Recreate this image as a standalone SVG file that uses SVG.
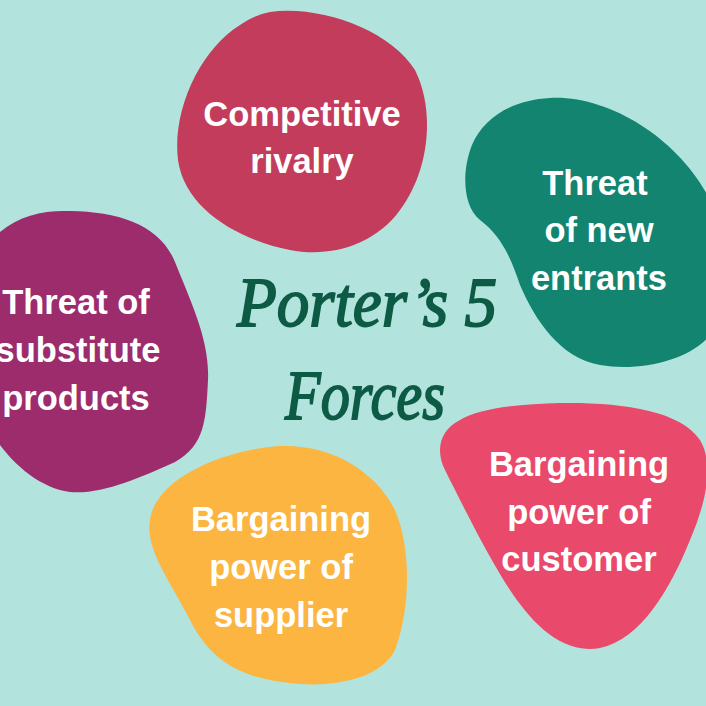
<svg xmlns="http://www.w3.org/2000/svg" width="706" height="706" viewBox="0 0 706 706">
<style>
.lbl{font-family:"Liberation Sans",Arial,sans-serif;font-weight:bold;font-size:34.5px;fill:#ffffff;text-anchor:middle}
.ttl{font-family:"Liberation Serif","Times New Roman",serif;font-style:italic;font-weight:normal;font-size:70px;fill:#0d5a45;text-anchor:middle;stroke:#0d5a45;stroke-width:1.8}
</style>
<rect x="0" y="0" width="706" height="706" fill="#b3e3dd"/>
<g id="rivalry">
<path d="M 270 12 C 320 5, 390 30, 415 70 C 435 110, 430 170, 400 210 C 375 245, 330 258, 290 250 C 240 240, 185 210, 178 160 C 172 110, 200 50, 240 25 C 250 18, 260 14, 270 12 Z" fill="#c33c5c"/>
<text class="lbl" x="302" y="126">Competitive</text>
<text class="lbl" x="302" y="173">rivalry</text>
</g>
<g id="new-entrants">
<path d="M 550 98 C 610 95, 680 140, 710 200 L 710 335 C 690 360, 640 372, 600 365 C 560 358, 535 320, 520 285 C 510 255, 500 235, 480 220 C 462 205, 462 170, 472 145 C 485 115, 515 100, 550 98 Z" fill="#128470"/>
<text class="lbl" x="595" y="195">Threat</text>
<text class="lbl" x="599" y="242">of new</text>
<text class="lbl" x="599" y="290">entrants</text>
</g>
<g id="substitutes">
<path d="M 0 232 C 20 215, 45 210, 70 211 C 120 212, 160 225, 175 262 C 190 300, 210 340, 208 380 C 206 420, 205 445, 175 462 C 140 478, 100 495, 70 492 C 40 488, 15 465, 0 445 Z" fill="#9c2c6c"/>
<text class="lbl" x="76" y="314">Threat of</text>
<text class="lbl" x="78" y="362">substitute</text>
<text class="lbl" x="76" y="410">products</text>
</g>
<g id="supplier">
<path d="M 280 446 C 330 444, 375 470, 395 510 C 412 550, 410 610, 395 650 C 380 680, 330 688, 290 683 C 240 678, 210 660, 190 620 C 170 580, 145 550, 150 520 C 155 480, 220 450, 280 446 Z" fill="#fbb540"/>
<text class="lbl" x="281" y="531">Bargaining</text>
<text class="lbl" x="281" y="579">power of</text>
<text class="lbl" x="281" y="627">supplier</text>
</g>
<g id="customer">
<path d="M 560 403 C 620 402, 680 410, 700 440 C 715 465, 705 505, 690 540 C 670 590, 640 640, 600 648 C 560 655, 530 620, 510 590 C 490 560, 465 510, 445 470 C 435 450, 440 430, 460 420 C 480 408, 520 404, 560 403 Z" fill="#e9496a"/>
<text class="lbl" x="579" y="476">Bargaining</text>
<text class="lbl" x="579" y="524">power of</text>
<text class="lbl" x="579" y="571">customer</text>
</g>
<g id="title">
<text class="ttl" x="367" y="326" textLength="260" lengthAdjust="spacingAndGlyphs">Porter’s 5</text>
<text class="ttl" x="365" y="419" textLength="160" lengthAdjust="spacingAndGlyphs">Forces</text>
</g>
<g id="connectors"/>
</svg>
